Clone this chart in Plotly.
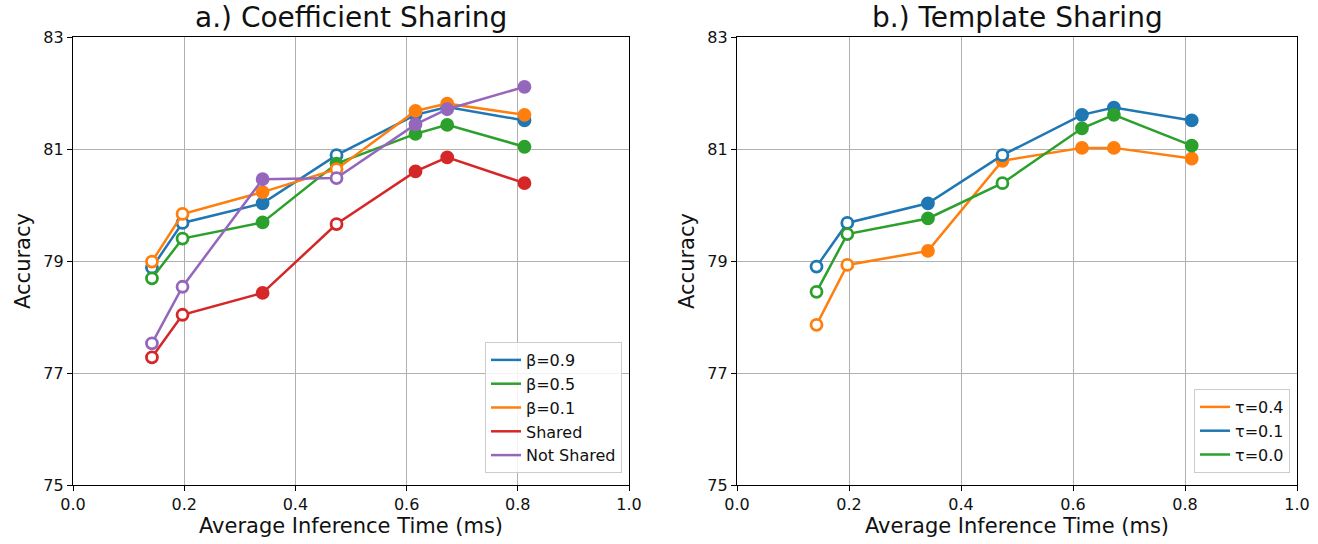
import plotly.graph_objects as go

# ---- data ----
x_time = [0.142, 0.197, 0.341, 0.474, 0.616, 0.673, 0.812]

# a.) Coefficient Sharing
beta_09 = [78.88, 79.68, 80.03, 80.89, 81.61, 81.75, 81.51]
beta_05 = [78.69, 79.40, 79.69, 80.74, 81.27, 81.43, 81.04]
beta_01 = [78.99, 79.84, 80.23, 80.64, 81.68, 81.81, 81.61]
shared = [77.28, 78.04, 78.43, 79.66, 80.60, 80.85, 80.39]
not_shared = [77.53, 78.54, 80.46, 80.48, 81.44, 81.71, 82.11]

# b.) Template Sharing
tau_04 = [77.86, 78.93, 79.18, 80.79, 81.02, 81.02, 80.83]
tau_01 = [78.90, 79.68, 80.03, 80.89, 81.61, 81.74, 81.51]
tau_00 = [78.45, 79.48, 79.76, 80.39, 81.37, 81.61, 81.06]

left_series = [
    ("β=0.9", beta_09, "#1f77b4", [1, 1, 0, 1, 0, 0, 0]),
    ("β=0.5", beta_05, "#2ca02c", [1, 1, 0, 0, 0, 0, 0]),
    ("β=0.1", beta_01, "#ff7f0e", [1, 1, 0, 1, 0, 0, 0]),
    ("Shared", shared, "#d62728", [1, 1, 0, 1, 0, 0, 0]),
    ("Not Shared", not_shared, "#9467bd", [1, 1, 0, 1, 0, 0, 0]),
]
right_series = [
    ("τ=0.4", tau_04, "#ff7f0e", [1, 1, 0, 0, 0, 0, 0]),
    ("τ=0.1", tau_01, "#1f77b4", [1, 1, 0, 1, 0, 0, 0]),
    ("τ=0.0", tau_00, "#2ca02c", [1, 1, 0, 1, 0, 0, 0]),
]

FONT = "DejaVu Sans"
TXT = "#111111"
fig = go.Figure()


def add_series(series, xa, ya, legend):
    for name, ys, col, hollow in series:
        fills = ["white" if h else col for h in hollow]
        fig.add_trace(go.Scatter(
            x=x_time, y=ys, mode="lines+markers", xaxis=xa, yaxis=ya,
            line=dict(color=col, width=2.5),
            marker=dict(size=11, color=fills, line=dict(color=col, width=2.8)),
            showlegend=False, name=name))
    for name, ys, col, hollow in series:
        fig.add_trace(go.Scatter(
            x=[None], y=[None], mode="lines", xaxis=xa, yaxis=ya,
            line=dict(color=col, width=2.5), name=name, legend=legend))


add_series(left_series, "x", "y", "legend")
add_series(right_series, "x2", "y2", "legend2")

axis_common = dict(
    showline=True, linecolor="black", linewidth=1.2, mirror=True,
    showgrid=True, gridcolor="#b0b0b0", gridwidth=1,
    ticks="outside", ticklen=5, tickcolor="black", automargin=False,
    tickfont=dict(family=FONT, size=16, color=TXT), zeroline=False,
)
xtick = dict(range=[0, 1], tickvals=[0, 0.2, 0.4, 0.6, 0.8, 1.0],
             ticktext=["0.0", "0.2", "0.4", "0.6", "0.8", "1.0"])
ytick = dict(range=[75, 83], tickvals=[75, 77, 79, 81, 83])
xtitle = dict(text="Average Inference Time (ms)", font=dict(family=FONT, size=21, color=TXT), standoff=4)
ytitle = dict(text="Accuracy", font=dict(family=FONT, size=21, color=TXT), standoff=6)

ydom = [1 - 485 / 544, 1 - 37 / 544]
leg_common = dict(bgcolor="rgba(255,255,255,0.85)", bordercolor="#cccccc", borderwidth=1,
                  font=dict(family=FONT, size=16, color=TXT), tracegroupgap=0)
fig.update_layout(
    width=1318, height=544,
    margin=dict(l=0, r=0, t=0, b=0),
    paper_bgcolor="white", plot_bgcolor="white",
    font=dict(family=FONT, color=TXT),
    xaxis=dict(domain=[73 / 1318, 629 / 1318], anchor="y", title=xtitle, **xtick, **axis_common),
    yaxis=dict(domain=ydom, anchor="x", title=ytitle, **ytick, **axis_common),
    xaxis2=dict(domain=[737 / 1318, 1297 / 1318], anchor="y2", title=xtitle, **xtick, **axis_common),
    yaxis2=dict(domain=ydom, anchor="x2", title=ytitle, **ytick, **axis_common),
    legend=dict(x=622 / 1318, xanchor="right", y=1 - 473 / 544, yanchor="bottom", **leg_common),
    legend2=dict(x=1290 / 1318, xanchor="right", y=1 - 473 / 544, yanchor="bottom", **leg_common),
    annotations=[
        dict(text="a.) Coefficient Sharing", x=(73 + 629) / 2 / 1318, y=1 - 18 / 544,
             xref="paper", yref="paper", showarrow=False, xanchor="center", yanchor="middle",
             font=dict(family=FONT, size=28, color=TXT)),
        dict(text="b.) Template Sharing", x=(737 + 1297) / 2 / 1318, y=1 - 18 / 544,
             xref="paper", yref="paper", showarrow=False, xanchor="center", yanchor="middle",
             font=dict(family=FONT, size=28, color=TXT)),
    ],
)

fig.write_html("out.html")
